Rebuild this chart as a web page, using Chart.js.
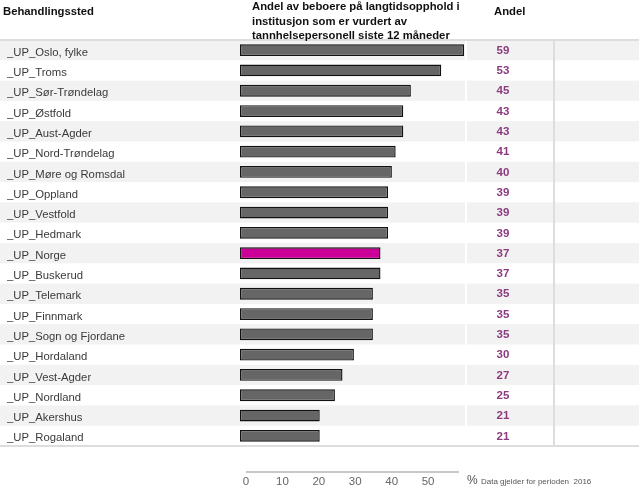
<!DOCTYPE html>
<html>
<head>
<meta charset="utf-8">
<script src="https://cdn.jsdelivr.net/npm/chart.js"></script>
<style>
  html, body { margin: 0; padding: 0; background: #fff; }
  #wrap { width: 639px; height: 486px; position: relative; }
</style>
</head>
<body>
<div id="wrap"><canvas id="chart"></canvas></div>
<script>
// data
const categories = [
  '_UP_Oslo, fylke', '_UP_Troms', '_UP_Sør-Trøndelag', '_UP_Østfold', '_UP_Aust-Agder',
  '_UP_Nord-Trøndelag', '_UP_Møre og Romsdal', '_UP_Oppland', '_UP_Vestfold', '_UP_Hedmark',
  '_UP_Norge', '_UP_Buskerud', '_UP_Telemark', '_UP_Finnmark', '_UP_Sogn og Fjordane',
  '_UP_Hordaland', '_UP_Vest-Agder', '_UP_Nordland', '_UP_Akershus', '_UP_Rogaland'
];
const shares = [59, 53, 45, 43, 43, 41, 40, 39, 39, 39, 37, 37, 35, 35, 35, 30, 27, 25, 21, 21];
const highlight = '_UP_Norge';
const axisTicks = [0, 10, 20, 30, 40, 50];

const headerName = 'Behandlingssted';
const headerMeasure = ['Andel av beboere på langtidsopphold i', 'institusjon som er vurdert av', 'tannhelsepersonell siste 12 måneder'];
const headerValue = 'Andel';
const unitText = '%';
const periodText = 'Data gjelder for perioden  2016';

const FONT = '"Liberation Sans", Arial, sans-serif';
const barColors = categories.map(c => c === highlight ? '#cc0099' : '#666666');

// table background, header and footer drawn around the chart area
const tablePlugin = {
  id: 'table',
  beforeDraw(chart) {
    const ctx = chart.ctx;
    const y = chart.scales.y;
    const step = y.getPixelForValue(1) - y.getPixelForValue(0);
    const W = chart.width;
    ctx.save();
    categories.forEach((c, i) => {
      if (i % 2 !== 0) return;
      const top = y.getPixelForValue(i) - step / 2;
      ctx.fillStyle = '#f2f2f2';
      ctx.fillRect(0, top, 465, step);
      ctx.fillRect(467, top, W - 467, step);
    });
    const top = y.getPixelForValue(0) - step / 2;
    const bottom = y.getPixelForValue(categories.length - 1) + step / 2;
    ctx.fillStyle = '#dddddd';
    ctx.fillRect(0, top - 1, W, 2);
    ctx.fillRect(0, bottom - 1, W, 2);
    ctx.fillRect(553, top, 2, bottom - top);

    ctx.fillStyle = '#111';
    ctx.textBaseline = 'middle';
    ctx.font = 'bold 11.3px ' + FONT;
    ctx.fillText(headerName, 3, 12);
    ctx.fillText(headerValue, 494, 12);
    headerMeasure.forEach((t, i) => ctx.fillText(t, 252, 7 + i * 14.6));
    ctx.restore();
  },
  afterDraw(chart) {
    const ctx = chart.ctx;
    const y = chart.scales.y;
    const x2 = chart.scales.x2;
    ctx.save();
    ctx.font = 'bold 11.5px ' + FONT;
    ctx.fillStyle = '#8b3a7f';
    ctx.textAlign = 'center';
    ctx.textBaseline = 'middle';
    shares.forEach((v, i) => ctx.fillText(String(v), 503, y.getPixelForValue(i) + 0.5));

    // bottom axis line
    ctx.fillStyle = '#c8c8c8';
    const x0 = x2.getPixelForValue(x2.min);
    const x1 = x2.getPixelForValue(x2.max);
    ctx.fillRect(x0, 471, x1 - x0, 2);

    ctx.textAlign = 'left';
    ctx.fillStyle = '#555';
    ctx.font = '12px ' + FONT;
    ctx.fillText(unitText, 467, 481);
    ctx.font = '8px ' + FONT;
    ctx.fillText(periodText, 481, 482);
    ctx.restore();
  }
};

new Chart(document.getElementById('chart'), {
  type: 'bar',
  data: {
    labels: categories,
    datasets: [{
      data: shares,
      base: 0,
      backgroundColor: barColors,
      borderColor: '#111',
      borderWidth: 1.4,
      borderSkipped: false,
      barPercentage: 0.58,
      categoryPercentage: 1,
      clip: false
    }]
  },
  options: {
    indexAxis: 'y',
    responsive: true,
    maintainAspectRatio: false,
    animation: false,
    layout: { padding: { left: 7, right: 180, top: 40, bottom: 0 } },
    plugins: { legend: { display: false }, tooltip: { enabled: false } },
    scales: {
      y: {
        type: 'category',
        grid: { display: false, drawTicks: false },
        border: { display: false },
        afterFit: s => { s.width = 239; },
        ticks: {
          crossAlign: 'far',
          padding: 0,
          labelOffset: 2.5,
          color: '#3a3a3a',
          font: { family: FONT, size: 11.3 },
          autoSkip: false
        }
      },
      x: {
        type: 'linear',
        display: false,
        min: 1.58,
        max: 57.68
      },
      x2: {
        type: 'linear',
        position: 'bottom',
        min: 0,
        max: 58.5,
        grid: { display: false, drawTicks: false },
        border: { display: false },
        afterFit: s => { s.height = 40; },
        afterBuildTicks: s => { s.ticks = axisTicks.map(v => ({ value: v })); },
        ticks: {
          padding: 29,
          color: '#666',
          font: { family: FONT, size: 11.5 }
        }
      }
    }
  },
  plugins: [tablePlugin]
});
</script>
</body>
</html>
